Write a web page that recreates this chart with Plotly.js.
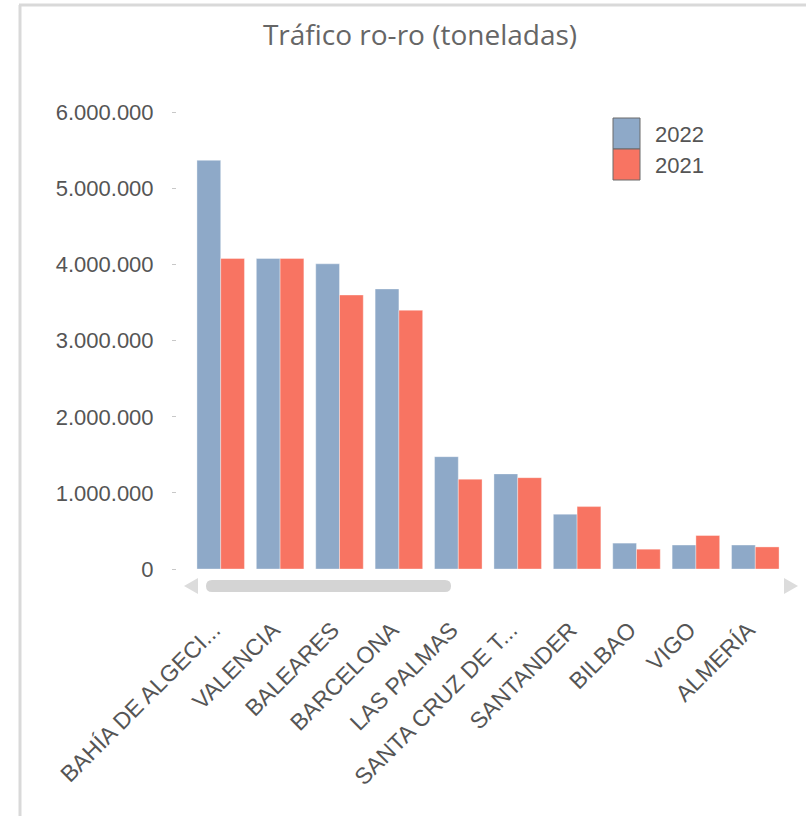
<!DOCTYPE html>
<html>
<head>
<meta charset="utf-8">
<script src="https://cdn.plot.ly/plotly-3.0.1.min.js"></script>
<style>html,body{margin:0;padding:0;background:#fff;}#chart{width:806px;height:816px;}</style>
</head>
<body>
<div id="chart"></div>
<script>
const chartTitle = "Tráfico ro-ro (toneladas)";
const categories = ["BAHÍA DE ALGECI...", "VALENCIA", "BALEARES", "BARCELONA", "LAS PALMAS", "SANTA CRUZ DE T...", "SANTANDER", "BILBAO", "VIGO", "ALMERÍA"];
const seriesNames = ["2022", "2021"];
const values2022 = [5370000, 4080000, 4010000, 3680000, 1476000, 1250000, 720000, 340000, 315000, 315000];
const values2021 = [4080000, 4080000, 3600000, 3400000, 1180000, 1200000, 820000, 260000, 440000, 290000];
const yTickValues = [0, 1000000, 2000000, 3000000, 4000000, 5000000, 6000000];

const colors = ["#8EA9C8", "#F87462"];
const W = 806, H = 816;
const M = {l: 176, r: 21, t: 100, b: 247};
const PW = W - M.l - M.r, PH = H - M.t - M.b;
const fx = px => (px - M.l) / PW;
const fy = py => (H - M.b - py) / PH;

const sans = "'Liberation Sans', Arial, sans-serif";

const traces = [values2022, values2021].map((vals, i) => ({
  type: 'bar',
  name: seriesNames[i],
  x: categories,
  y: vals,
  marker: {color: colors[i], line: {color: 'rgba(255,255,255,0.35)', width: 1}},
  showlegend: false,
  hoverinfo: 'x+y+name'
}));

const shapes = [
  // frame
  {type: 'line', xref: 'paper', yref: 'paper', x0: fx(19), x1: fx(806), y0: fy(5), y1: fy(5), line: {color: '#d9d9d9', width: 3}},
  {type: 'line', xref: 'paper', yref: 'paper', x0: fx(20), x1: fx(20), y0: fy(5), y1: fy(816), line: {color: '#d9d9d9', width: 3}},
  // scrollbar
  {type: 'path', xref: 'paper', yref: 'paper',
   path: `M ${fx(212)} ${fy(580)} L ${fx(445)} ${fy(580)} Q ${fx(451)} ${fy(580)} ${fx(451)} ${fy(586)} Q ${fx(451)} ${fy(592)} ${fx(445)} ${fy(592)} L ${fx(212)} ${fy(592)} Q ${fx(206)} ${fy(592)} ${fx(206)} ${fy(586)} Q ${fx(206)} ${fy(580)} ${fx(212)} ${fy(580)} Z`,
   fillcolor: '#d4d4d4', line: {width: 0}},
  {type: 'path', xref: 'paper', yref: 'paper',
   path: `M ${fx(184)} ${fy(586)} L ${fx(198)} ${fy(578)} L ${fx(198)} ${fy(594)} Z`,
   fillcolor: '#dcdcdc', line: {width: 0}},
  {type: 'path', xref: 'paper', yref: 'paper',
   path: `M ${fx(798)} ${fy(586)} L ${fx(784)} ${fy(578)} L ${fx(784)} ${fy(594)} Z`,
   fillcolor: '#dcdcdc', line: {width: 0}},
];
// custom legend swatches
const annotations = [];
seriesNames.forEach((nm, i) => {
  const top = 118 + i * 31;
  shapes.push({type: 'rect', xref: 'paper', yref: 'paper', x0: fx(613), x1: fx(640), y0: fy(top), y1: fy(top + 31),
    fillcolor: colors[i], line: {color: '#6b6b6b', width: 1}});
  annotations.push({xref: 'paper', yref: 'paper', x: fx(653), y: fy(top + 16), xanchor: 'left', yanchor: 'middle',
    text: nm, showarrow: false, font: {family: sans, size: 22, color: '#555'}});
});

const layout = {
  width: W, height: H,
  margin: M,
  paper_bgcolor: '#fff', plot_bgcolor: '#fff',
  separators: ',.',
  title: {text: chartTitle, x: 420 / W, xref: 'container', y: 1 - 35 / H, yref: 'container', xanchor: 'center', yanchor: 'middle',
    font: {family: "'Open Sans', 'Noto Sans', sans-serif", size: 28, color: '#666'}},
  barmode: 'group', bargap: 0.2, bargroupgap: 0,
  xaxis: {domain: [fx(191), 1], showgrid: false, zeroline: false, showline: false, ticks: '',
    tickangle: -45, ticklabelstandoff: 42, ticklabelshift: -7,
    tickfont: {family: sans, size: 23, color: '#555'}},
  yaxis: {anchor: 'free', position: 0, range: [0, (H - M.b - 100) / 76.1 * 1e6],
    tickvals: yTickValues, tickformat: ',d', showgrid: false, zeroline: false, showline: false,
    ticks: 'outside', ticklen: 4, tickcolor: '#c8c8c8', tickwidth: 1, ticklabelstandoff: 14,
    tickfont: {family: sans, size: 22, color: '#555'}},
  shapes: shapes,
  annotations: annotations,
  showlegend: false
};

Plotly.newPlot('chart', traces, layout, {displayModeBar: false, staticPlot: true});
</script>
</body>
</html>
